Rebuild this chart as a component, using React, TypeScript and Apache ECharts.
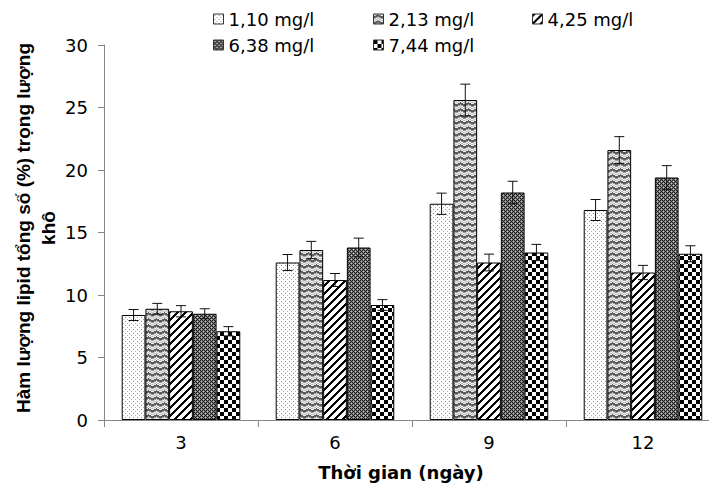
import React, { useEffect, useRef } from "react";
import * as echarts from "echarts";

const categories = ["3", "6", "9", "12"];
const seriesNames = ["1,10 mg/l", "2,13 mg/l", "4,25 mg/l", "6,38 mg/l", "7,44 mg/l"];
const v110 = [8.4, 12.6, 17.3, 16.8];
const v213 = [8.9, 13.6, 25.6, 21.6];
const v425 = [8.7, 11.2, 12.6, 11.8];
const v638 = [8.5, 13.8, 18.2, 19.4];
const v744 = [7.1, 9.2, 13.4, 13.3];
const e110 = [0.44, 0.64, 0.85, 0.84];
const e213 = [0.43, 0.69, 1.27, 1.07];
const e425 = [0.45, 0.52, 0.67, 0.57];
const e638 = [0.4, 0.75, 0.9, 0.95];
const e744 = [0.37, 0.43, 0.65, 0.64];
const yTicks = [0, 5, 10, 15, 20, 25, 30];

const values = [v110, v213, v425, v638, v744];
const errors = [e110, e213, e425, e638, e744];

const CAT_GAP = 0.23;

function makeTile(w: number, h: number, fn: (x: number, y: number) => string) {
  const c = document.createElement("canvas");
  c.width = w;
  c.height = h;
  const ctx = c.getContext("2d")!;
  for (let y = 0; y < h; y++) {
    for (let x = 0; x < w; x++) {
      ctx.fillStyle = fn(x, y);
      ctx.fillRect(x, y, 1, 1);
    }
  }
  return { image: c.toDataURL(), imageWidth: w, imageHeight: h, repeat: "repeat" };
}

function makePatterns() {
  const dots = makeTile(4, 4, (x, y) => {
    if (x === 1 && y === 1) return "#8a8a8a";
    if (x === 3 && y === 3) return "#b0b0b0";
    return "#ffffff";
  });
  const zig = makeTile(8, 6, (x, y) => {
    const t = Math.abs((x % 8) - 4) / 2;
    const d = (((y - Math.round(t)) % 6) + 6) % 6;
    if (d < 2) return "#5a5a5a";
    if (d === 2) return "#9a9a9a";
    if (d === 4) return "#c4c4c4";
    return "#ececec";
  });
  const diag = makeTile(8, 8, (x, y) => ((x + y) % 8 < 3 ? "#000000" : "#ffffff"));
  const dark = makeTile(4, 4, (x, y) => {
    if ((x === 1 && y === 1) || (x === 3 && y === 3)) return "#c8c8c8";
    return (x + y) % 2 === 0 ? "#1e1e1e" : "#7a7a7a";
  });
  const checker = makeTile(8, 8, (x, y) =>
    (Math.floor(x / 4) + Math.floor(y / 4)) % 2 === 0 ? "#000000" : "#ffffff"
  );
  return [dots, zig, diag, dark, checker];
}

export default function App() {
  const ref = useRef<HTMLDivElement>(null);
  useEffect(() => {
    if (!ref.current) return;
    const chart = echarts.init(ref.current, null, { renderer: "svg" });
    const patterns = makePatterns();
    const N = seriesNames.length;

    const barSeries = seriesNames.map((name, k) => ({
      name,
      type: "bar",
      data: values[k],
      barGap: "0%",
      barCategoryGap: `${CAT_GAP * 100}%`,
      itemStyle: { color: patterns[k], borderColor: "#000", borderWidth: 1 },
      z: 2,
    }));

    const errSeries = seriesNames.map((name, k) => ({
      name: "err-" + name,
      type: "custom",
      z: 3,
      data: values[k].map((v, i) => [i, v - errors[k][i], v + errors[k][i]]),
      encode: { x: 0, y: [1, 2] },
      renderItem: (params: any, api: any) => {
        const ci = api.value(0);
        const lo = api.coord([ci, api.value(1)]);
        const hi = api.coord([ci, api.value(2)]);
        const catW = api.size([1, 0])[0];
        const bw = (catW * (1 - CAT_GAP)) / N;
        const x = lo[0] + (k - (N - 1) / 2) * bw;
        const half = 5;
        const style = { stroke: "#111", lineWidth: 1 };
        return {
          type: "group",
          children: [
            { type: "line", shape: { x1: x, y1: lo[1], x2: x, y2: hi[1] }, style },
            { type: "line", shape: { x1: x - half, y1: hi[1], x2: x + half, y2: hi[1] }, style },
            { type: "line", shape: { x1: x - half, y1: lo[1], x2: x + half, y2: lo[1] }, style },
          ],
        };
      },
    }));

    const legendPos = [
      { left: 213, top: 10 },
      { left: 373, top: 10 },
      { left: 532, top: 10 },
      { left: 213, top: 36 },
      { left: 373, top: 36 },
    ];

    const legends = seriesNames.map((name, k) => ({
      data: [name],
      left: legendPos[k].left,
      top: legendPos[k].top,
      padding: 0,
      icon: "rect",
      itemWidth: 10,
      itemHeight: 10,
      itemGap: 0,
      selectedMode: false,
      itemStyle: { borderColor: "#333", borderWidth: 1 },
      textStyle: { fontFamily: "DejaVu Sans", fontSize: 18, color: "#000", padding: [0, 0, 0, 0] },
    }));

    chart.setOption({
      animation: false,
      backgroundColor: "#fff",
      legend: legends,
      grid: { left: 104, top: 45, width: 616, height: 375, containLabel: false, outerBoundsMode: "none" },
      xAxis: {
        type: "category",
        data: categories,
        axisLine: { show: true, lineStyle: { color: "#878787", width: 1 } },
        axisTick: { show: true, length: 7, lineStyle: { color: "#878787" } },
        axisLabel: { fontFamily: "DejaVu Sans", fontSize: 18, color: "#000", margin: 13 },
        splitLine: { show: false },
      },
      yAxis: {
        type: "value",
        min: yTicks[0],
        max: yTicks[yTicks.length - 1],
        interval: yTicks[1] - yTicks[0],
        axisLine: { show: true, lineStyle: { color: "#878787", width: 1 } },
        axisTick: { show: true, length: 6, lineStyle: { color: "#878787" } },
        axisLabel: { fontFamily: "DejaVu Sans", fontSize: 18, color: "#000", margin: 16 },
        splitLine: { show: false },
      },
      graphic: [
        {
          type: "text",
          x: 36,
          y: 228,
          rotation: Math.PI / 2,
          style: {
            text: "Hàm lượng lipid tổng số (%) trọng lượng\nkhô",
            fontFamily: "Liberation Sans, Arial, sans-serif",
            fontWeight: "bold",
            fontSize: 19,
            lineHeight: 25,
            fill: "#000",
            align: "center",
            verticalAlign: "middle",
          },
        },
        {
          type: "text",
          x: 401,
          y: 472,
          style: {
            text: "Thời gian (ngày)",
            fontFamily: "DejaVu Sans",
            fontWeight: "bold",
            fontSize: 18,
            fill: "#000",
            align: "center",
            verticalAlign: "middle",
          },
        },
      ],
      series: [...barSeries, ...errSeries],
    });
    return () => chart.dispose();
  }, []);
  return (
    <div
      ref={ref}
      style={{ position: "fixed", left: 0, top: 0, width: 709, height: 485, background: "#fff" }}
    />
  );
}
